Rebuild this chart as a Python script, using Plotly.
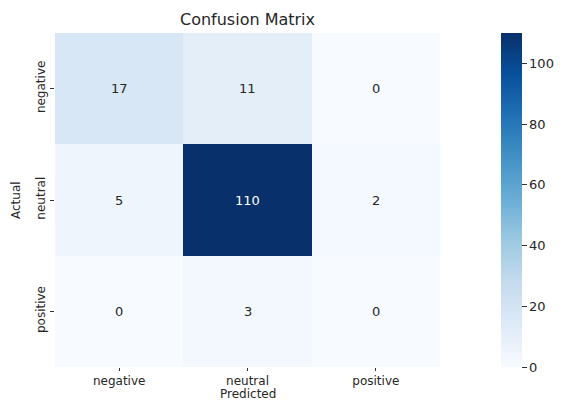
import plotly.graph_objects as go

labels = ["negative", "neutral", "positive"]
matrix = [
    [17, 11, 0],
    [5, 110, 2],
    [0, 3, 0],
]
cbar_ticks = [0, 20, 40, 60, 80, 100]

zmax = max(max(r) for r in matrix)
font_family = "DejaVu Sans, Verdana, sans-serif"

# page has an 8px body margin, so the figure is drawn 8px smaller and offset
W, H = 554, 393
L, T, PW, PH = 47, 25, 385, 334

fig = go.Figure(go.Heatmap(
    z=matrix, x=labels, y=labels,
    colorscale="Blues", zmin=0, zmax=zmax,
    xgap=0, ygap=0,
    colorbar=dict(
        thickness=21, len=1.0, lenmode="fraction", y=0.5, yanchor="middle",
        x=(493 - L) / PW, xanchor="left", xref="paper",
        tickvals=cbar_ticks, ticks="outside", ticklen=5, tickcolor="#333",
        tickfont=dict(size=13, color="#262626", family=font_family),
        outlinewidth=0, xpad=0, ypad=0,
    ),
    hoverinfo="skip",
))

annotations = []
for i, row in enumerate(matrix):
    for j, v in enumerate(row):
        annotations.append(dict(
            x=labels[j], y=labels[i], text=str(v), showarrow=False,
            font=dict(size=13, family=font_family,
                      color="white" if v > zmax * 0.6 else "#262626"),
        ))
annotations.append(dict(
    text="Predicted", xref="paper", yref="paper", x=0.5, y=0,
    xanchor="center", yanchor="middle", yshift=-27, showarrow=False,
    font=dict(size=12, family=font_family, color="#262626"),
))
annotations.append(dict(
    text="Actual", xref="paper", yref="paper", x=0, y=0.5,
    xanchor="center", yanchor="middle", xshift=-39, textangle=-90, showarrow=False,
    font=dict(size=12, family=font_family, color="#262626"),
))

fig.update_layout(
    width=W, height=H,
    margin=dict(l=L, r=W - L - PW, t=T, b=H - T - PH, autoexpand=False),
    paper_bgcolor="white", plot_bgcolor="white",
    title=dict(text="Confusion Matrix", x=(L + PW / 2) / W, xanchor="center",
               y=1 - 11 / H, yanchor="middle",
               font=dict(size=16, color="#262626", family=font_family)),
    font=dict(family=font_family, color="#262626"),
    annotations=annotations,
    xaxis=dict(
        tickfont=dict(size=12), ticks="outside", ticklen=3, tickcolor="#333",
        showgrid=False, zeroline=False, showline=False, automargin=False,
    ),
    yaxis=dict(
        tickfont=dict(size=12), ticks="outside", ticklen=4, tickcolor="#333",
        tickangle=-90, autorange="reversed",
        showgrid=False, zeroline=False, showline=False, automargin=False,
    ),
)

fig.write_html("out.html")
